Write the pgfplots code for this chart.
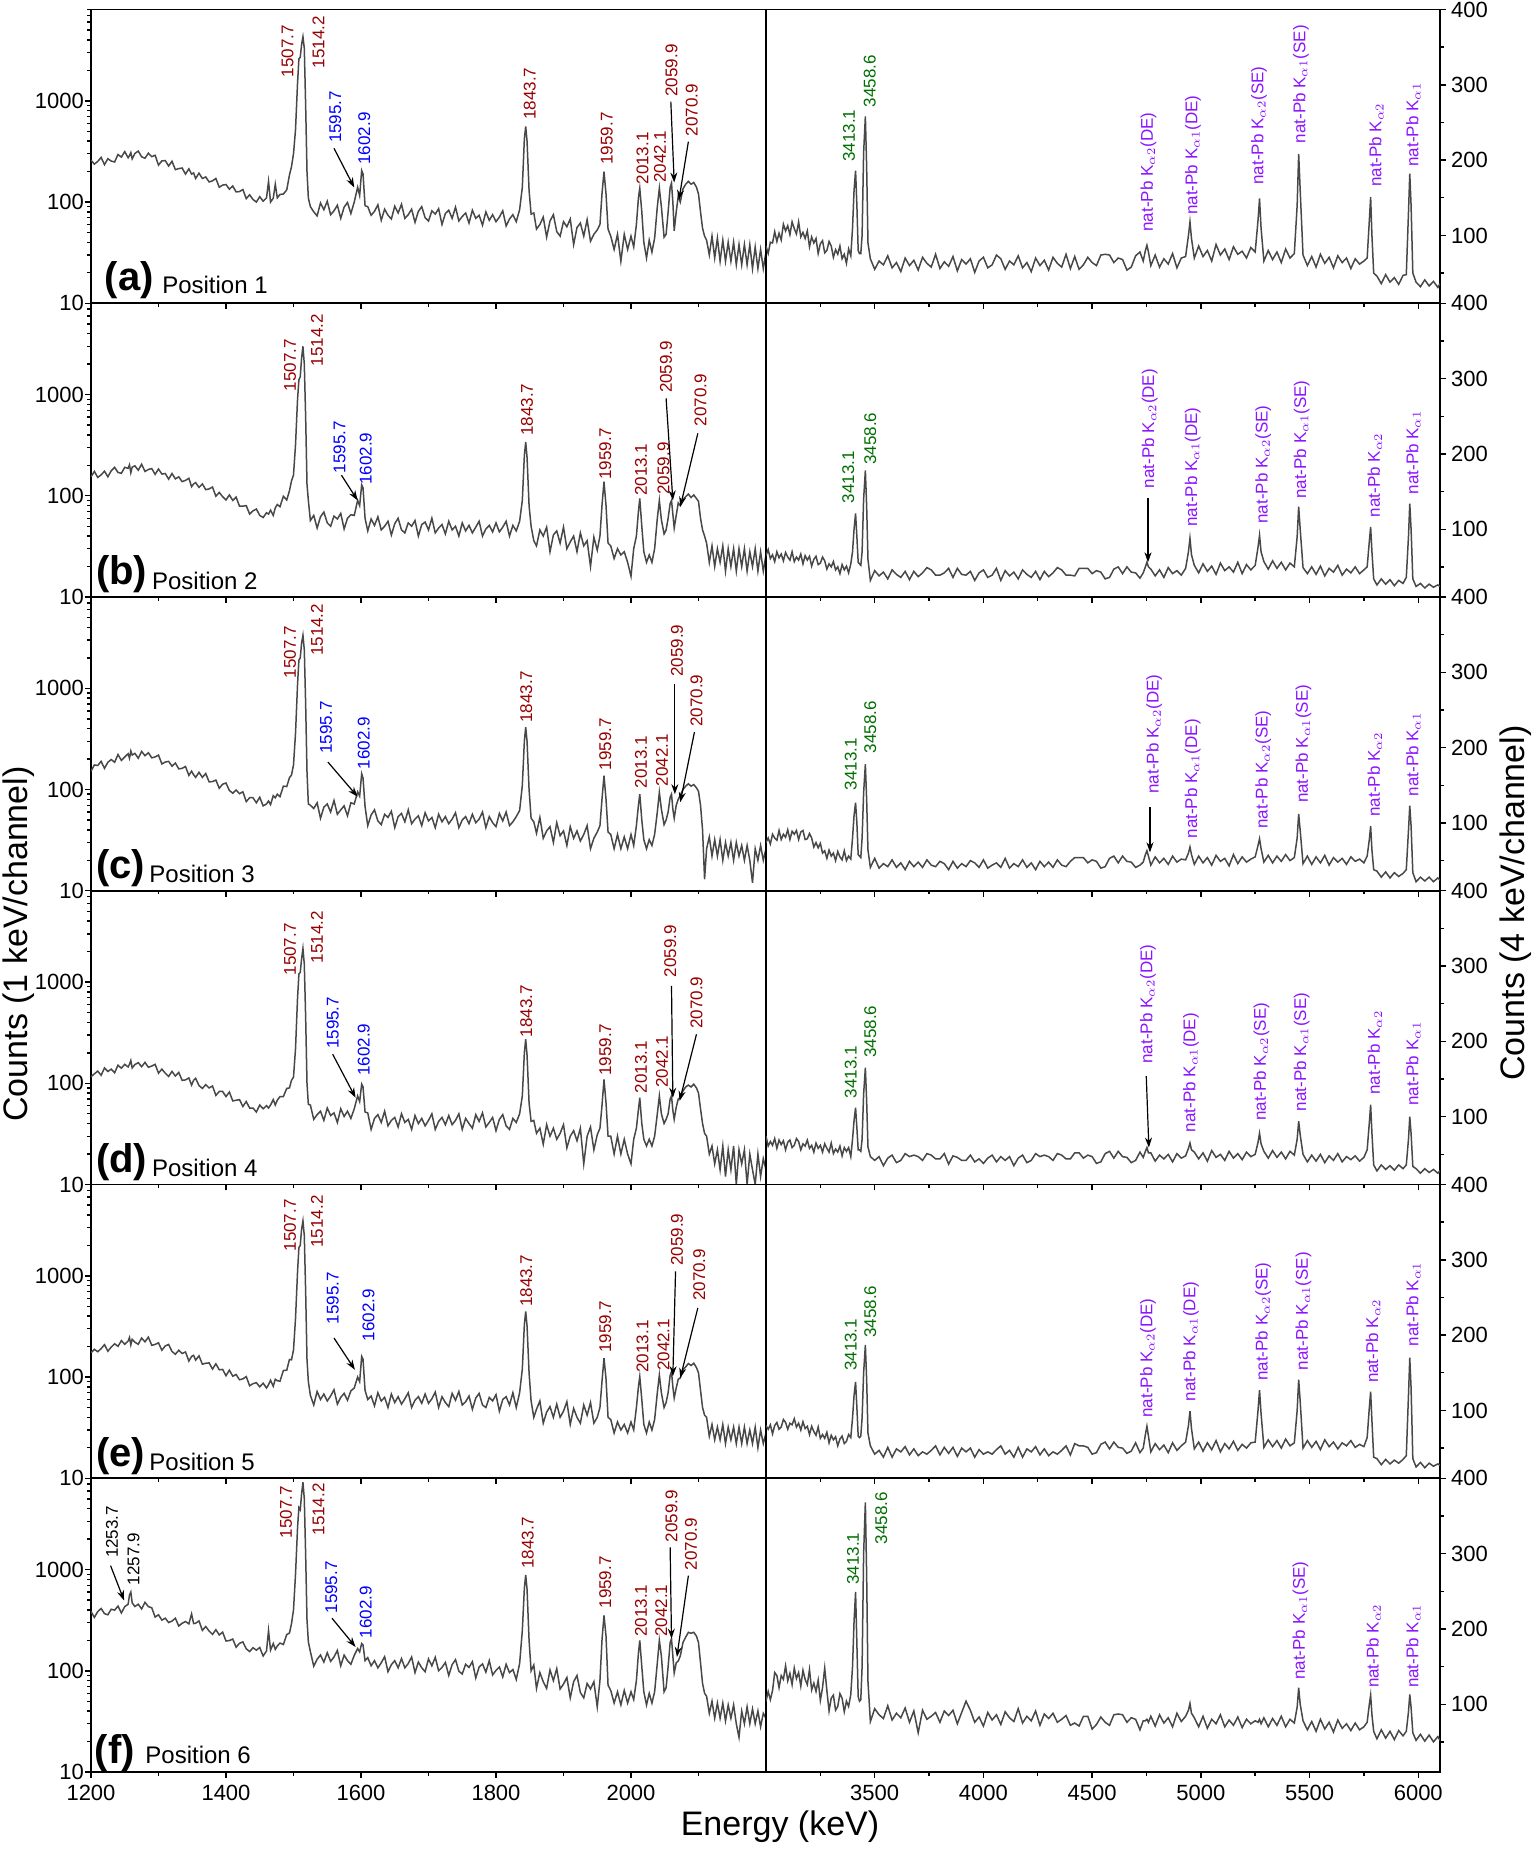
\documentclass[border=0pt]{standalone}
\usepackage{pgfplots}
\pgfplotsset{compat=1.18}
\usepackage{pgfplotstable}
\usepackage{fontspec}
\setmainfont{Liberation Sans}
\usetikzlibrary{arrows.meta}
\definecolor{pkred}{RGB}{150,0,0}
\definecolor{pkblue}{RGB}{0,0,255}
\definecolor{pkgreen}{RGB}{0,110,0}
\definecolor{pkpurple}{RGB}{140,20,255}
\definecolor{specc}{RGB}{72,72,72}

\pgfplotstableread{
E a b c d e f
1200 259 154 152 116 174 386
1205 237 174 175 124 188 337
1210 252 152 173 132 178 385
1215 276 161 190 120 191 413
1220 234 175 162 142 209 367
1225 268 154 186 131 180 358
1230 254 177 198 138 198 406
1235 249 191 186 127 213 398
1240 295 170 222 151 201 436
1245 278 167 194 141 229 373
1250 315 191 210 154 211 431
1255 274 187 226 145 227 455
1257 287 202 204 154 246 560
1259 308 169 240 168 208 600
1261 267 192 219 142 236 470
1265 302 198 228 153 221 432
1270 319 179 204 160 211 455
1275 280 205 238 146 243 409
1280 271 174 216 161 223 475
1285 304 182 231 144 248 431
1290 281 186 206 148 206 420
1295 290 163 210 154 210 340
1300 232 184 219 126 218 358
1305 255 164 179 138 184 317
1310 257 166 187 126 203 331
1315 227 146 190 117 210 300
1320 253 166 170 131 179 310
1325 209 147 183 118 168 331
1330 214 154 160 128 184 277
1335 217 138 162 107 171 295
1340 189 142 169 108 177 307
1345 213 149 138 113 144 291
1349 189 123 152 96 160 365
1352 194 131 140 107 164 293
1355 171 135 132 112 147 295
1360 193 121 148 95 162 311
1365 171 131 132 89 134 251
1370 177 115 144 97 137 274
1375 158 117 119 90 138 247
1380 162 122 120 94 120 229
1385 171 99 124 76 135 255
1390 140 108 103 83 118 226
1395 147 98 113 83 119 241
1400 149 91 116 74 103 197
1405 134 102 98 82 117 199
1410 144 90 92 67 102 206
1415 126 97 99 68 106 171
1420 127 79 91 69 94 187
1425 133 79 95 59 96 193
1430 108 80 76 66 101 165
1435 118 66 83 57 82 155
1440 106 71 83 57 86 169
1445 100 74 74 52 88 160
1450 113 64 84 61 80 170
1455 102 61 69 56 87 140
1460 110 68 72 60 78 157
1463 160 66 77 57 84 250
1466 100 72 71 61 93 160
1470 109 64 87 69 81 186
1473 150 76 83 61 95 163
1476 110 82 90 68 92 176
1480 119 78 85 74 91 188
1485 120 99 108 74 116 182
1490 132 91 107 89 117 228
1494 185 112 131 90 149 236
1497 223 140 139 107 148 291
1500 300 160 175 115 185 400
1503 520 320 360 220 380 900
1506 1500 900 1100 700 1100 2600
1508 2600 1400 1900 1200 1900 4100
1510 2700 1500 2000 1250 2000 3900
1512 3600 2300 2800 1700 2900 5600
1514 4300 3000 3350 2150 3500 7300
1516 3300 2000 2400 1500 2500 5000
1518 900 600 700 450 700 1400
1520 200 130 150 100 150 320
1522 110 90 72 62 90 193
1525 90 57 70 61 66 155
1530 80 64 65 44 53 111
1535 73 48 74 49 72 130
1540 98 62 52 53 60 143
1545 84 69 67 43 68 122
1550 102 54 72 57 58 151
1555 75 50 60 48 65 124
1560 82 63 78 51 75 137
1565 93 59 57 41 54 159
1570 69 67 63 56 63 112
1575 89 47 69 47 69 143
1580 99 60 55 53 59 126
1585 77 65 74 45 73 116
1590 100 64 72 56 78 142
1595 140 90 95 75 100 166
1598 116 80 86 66 90 154
1601 205 128 143 98 160 186
1603 190 120 130 92 150 180
1606 92 60 68 52 74 126
1610 90 45 44 51 60 135
1615 74 59 56 35 65 112
1620 81 51 63 45 52 126
1625 94 62 49 49 70 107
1630 66 46 45 41 58 120
1635 85 50 57 53 63 138
1640 74 56 53 38 50 98
1645 68 41 61 43 68 115
1650 91 53 42 46 56 126
1655 78 60 54 37 64 107
1660 95 46 58 50 54 132
1665 69 43 48 41 61 107
1670 75 54 63 44 70 118
1675 85 50 46 35 50 137
1680 63 57 51 48 59 96
1685 81 40 55 40 64 122
1690 90 52 44 45 55 107
1695 70 55 59 38 68 98
1700 65 46 49 43 55 131
1705 82 60 53 50 61 112
1710 76 43 42 35 71 136
1715 86 48 57 42 50 100
1720 60 52 48 46 64 108
1725 77 42 54 39 56 121
1730 83 56 46 48 51 90
1735 69 46 51 39 69 115
1740 89 50 59 43 59 129
1745 65 40 42 50 72 99
1750 72 54 50 35 53 93
1755 78 45 54 45 57 116
1760 62 51 46 40 65 108
1765 83 43 57 36 48 123
1770 69 49 47 49 62 85
1775 74 56 51 42 69 109
1780 59 40 60 51 53 117
1785 80 47 42 37 50 97
1790 66 51 54 41 63 126
1795 75 44 47 46 58 91
1800 64 54 43 34 67 101
1805 71 44 58 44 46 109
1810 82 49 49 49 60 87
1815 58 56 60 38 64 116
1820 68 40 44 35 53 96
1825 75 51 48 45 70 103
1830 64 45 54 41 50 82
1835 84 56 62 50 70 118
1839 140 90 110 75 120 250
1842 420 250 300 200 330 650
1844 560 340 414 273 445 887
1846 400 240 300 190 320 640
1849 130 80 100 64 110 200
1852 76 50 52 42 58 100
1856 78 36 48 43 40 114
1860 54 32 37 32 48 67
1865 60 46 53 36 58 96
1870 71 40 33 25 35 78
1875 45 49 39 39 45 67
1880 65 28 43 30 51 102
1885 75 41 30 36 40 80
1890 51 45 47 28 54 105
1895 46 34 35 32 40 66
1900 64 49 39 39 46 74
1905 57 30 28 23 57 86
1910 68 35 43 30 34 54
1915 38 40 33 34 49 78
1920 56 28 39 27 40 90
1925 62 43 31 36 35 61
1930 46 32 36 16 53 54
1935 67 36 44 30 42 75
1940 41 20 26 37 56 66
1945 48 39 33 22 35 78
1950 53 29 38 31 40 44
1954 60 40 44 36 50 80
1957 120 80 80 60 90 200
1960 200 138 137 109 154 353
1963 120 80 80 64 96 220
1966 54 34 38 30 40 72
1970 46 32 36 30 38 64
1975 34 24 26 20 28 48
1980 48 30 36 30 36 62
1985 26 26 26 20 30 46
1990 48 28 34 28 34 64
1995 34 22 26 20 28 48
2000 46 16 36 16 36 62
2004 36 30 28 28 30 52
2008 60 40 44 36 50 80
2011 110 70 70 55 80 150
2013 137 94 90 72 101 200
2016 80 50 50 40 60 110
2019 40 28 32 28 34 62
2023 28 22 26 24 28 46
2027 42 26 32 28 36 60
2031 32 22 28 24 30 48
2035 44 30 36 30 38 62
2039 90 60 60 50 70 120
2042 137 90 94 75 105 200
2045 90 58 64 50 70 140
2049 45 42 45 40 50 62
2052 48 46 50 44 56 68
2055 80 60 60 50 70 110
2058 140 84 84 70 104 190
2060 154 90 90 75 113 208
2062 100 66 64 54 80 140
2064 52 48 52 44 62 95
2067 80 64 70 58 78 120
2070 115 85 80 70 95 125
2073 100 80 88 72 98 140
2077 135 92 100 84 118 190
2081 150 98 108 92 126 215
2085 160 104 114 96 136 240
2089 150 96 108 92 130 235
2093 156 102 112 98 137 240
2097 140 94 104 90 124 220
2100 120 88 96 80 110 190
2103 80 60 70 56 74 120
2106 55 46 40 40 50 75
2109 46 40 13 32 42 60
2112 42 34 26 30 40 56
2116 30 22 34 20 26 38
2120 46 32 22 24 34 50
2124 28 20 32 16 24 34
2128 44 30 22 22 32 48
2132 26 22 32 14 24 34
2136 42 32 20 24 34 48
2140 26 18 30 12 22 32
2144 40 30 22 22 32 46
2148 26 20 30 14 24 34
2152 40 30 20 24 32 46
2156 24 18 30 10 22 30
2160 38 30 22 22 32 22
2164 24 20 28 16 22 40
2168 38 30 20 22 32 30
2172 24 18 28 10 22 44
2176 38 28 20 20 30 30
2180 22 20 12 14 22 42
2184 36 30 26 10 32 30
2188 22 18 20 20 20 40
2192 34 28 28 12 30 28
2196 22 18 20 18 22 38
2200 32 26 26 14 28 34
}\leftdata

\pgfplotstableread{
E a b c d e f
3000 86 65 74 74 80 104
3010 76 73 80 61 75 117
3020 91 61 72 67 81 106
3030 90 66 85 62 69 118
3040 105 57 80 71 80 142
3050 92 70 77 58 84 138
3060 103 62 90 69 75 122
3070 94 67 78 63 78 138
3080 115 58 85 68 88 133
3090 106 69 81 56 84 151
3100 113 63 91 66 75 131
3110 101 59 78 69 83 141
3120 118 70 89 59 81 126
3130 109 57 85 62 89 148
3140 102 63 90 71 78 134
3150 118 59 78 67 83 142
3160 98 67 88 56 74 124
3170 104 54 90 64 85 145
3180 96 65 78 61 76 133
3190 106 59 79 69 79 126
3200 85 64 86 58 68 146
3210 98 51 80 62 79 119
3220 90 60 68 53 72 128
3230 96 64 74 65 67 117
3240 76 53 67 58 78 132
3250 89 55 73 62 63 105
3260 93 63 60 53 68 122
3270 77 58 63 64 63 148
3280 80 47 53 58 71 118
3290 92 54 64 53 57 91
3300 86 50 56 65 67 108
3310 71 57 60 51 61 112
3320 81 46 50 57 65 92
3330 75 50 62 53 53 97
3340 86 41 55 61 62 114
3350 69 53 51 48 66 108
3360 75 46 63 59 56 90
3370 63 51 50 54 59 104
3380 82 42 56 59 68 97
3390 73 54 52 47 64 113
3398 110 70 80 70 90 150
3405 160 100 110 95 120 210
3412 186 121 127 112 138 249
3418 140 90 100 85 104 180
3424 80 56 58 56 66 110
3430 76 54 56 56 64 104
3436 76 52 54 54 66 106
3442 100 70 80 70 90 150
3449 210 140 140 130 150 300
3457 258 178 178 165 187 368
3463 190 130 130 120 140 270
3469 90 60 64 60 70 130
3480 69 32 41 47 53 77
3500 55 45 53 42 42 94
3520 66 38 40 47 47 86
3540 61 43 46 35 38 81
3560 73 34 42 45 51 98
3580 57 46 51 49 38 79
3600 64 40 41 39 49 88
3620 52 36 47 42 45 82
3640 70 44 38 51 52 95
3660 60 33 49 47 41 76
3680 67 44 42 49 49 91
3700 54 37 48 47 40 62
3720 71 42 41 42 45 92
3740 63 49 51 51 42 80
3760 58 46 44 49 47 84
3780 75 39 42 44 53 89
3800 56 39 49 44 41 76
3820 65 42 46 51 51 91
3840 59 48 38 37 43 85
3860 72 36 49 48 51 92
3880 53 48 40 46 39 74
3900 68 40 46 42 50 89
3920 62 39 42 42 45 104
3940 69 44 50 49 50 92
3960 51 32 47 40 38 76
3980 66 42 41 44 48 83
4000 71 46 51 38 42 71
4020 57 36 40 45 45 89
4040 61 39 44 49 42 79
4060 74 48 47 40 48 86
4080 69 32 41 47 53 73
4100 55 45 53 42 42 90
4120 66 38 40 47 47 82
4140 61 43 46 35 38 77
4160 73 34 42 45 51 94
4180 57 46 51 49 38 75
4200 64 40 41 39 49 84
4220 52 36 47 42 45 78
4240 70 44 38 51 52 91
4260 60 33 49 47 41 72
4280 67 44 42 49 49 87
4300 54 37 48 47 40 81
4320 71 42 41 42 45 88
4340 63 49 51 51 42 76
4360 58 46 44 49 47 80
4380 75 39 42 44 53 85
4400 56 39 49 44 41 72
4420 72 38 54 52 56 75
4440 55 48 54 52 53 71
4460 61 48 54 45 53 84
4480 71 48 47 49 51 84
4500 64 41 51 47 42 67
4520 60 45 49 38 44 73
4540 74 43 40 40 55 83
4560 75 34 42 51 58 76
4580 74 36 53 54 49 72
4600 64 47 56 45 58 86
4620 70 50 47 54 51 87
4640 68 41 56 47 50 86
4660 54 50 49 46 43 76
4680 58 43 48 39 46 82
4700 73 42 41 42 57 80
4720 78 35 44 53 44 66
4735 66 42 48 46 50 78
4745 80 50 58 54 68 78
4752 87 56 63 59 79 80
4759 78 50 56 52 66 76
4770 60 47 44 52 45 84
4790 74 38 55 41 56 71
4810 58 46 47 49 48 86
4830 69 36 53 44 54 75
4850 62 49 45 50 44 82
4870 76 41 56 40 57 70
4890 57 45 48 51 47 88
4910 70 39 52 45 53 77
4930 72 48 51 48 58 84
4943 100 70 60 58 80 92
4950 118 88 68 65 99 101
4957 96 66 58 56 76 88
4970 70 52 45 53 49 82
4990 86 42 56 44 58 70
5010 72 54 47 52 46 84
5030 80 44 54 41 57 68
5050 66 51 44 55 48 80
5070 88 40 57 46 60 74
5090 74 55 49 50 45 86
5110 82 45 53 42 56 70
5130 68 50 43 54 49 79
5150 85 43 58 45 59 72
5170 75 56 46 51 47 83
5190 79 41 55 43 55 69
5210 70 53 48 53 50 80
5230 84 46 52 47 57 74
5250 78 52 55 50 58 78
5263 120 76 70 66 100 76
5270 149 92 79 78 127 80
5277 110 70 66 64 96 74
5290 66 57 48 54 51 82
5310 80 47 57 45 61 70
5330 68 58 47 55 52 81
5350 78 48 56 46 60 72
5370 64 56 49 53 50 84
5390 82 46 58 44 62 70
5410 70 55 50 54 53 80
5430 76 50 54 49 57 75
5443 140 90 80 70 100 96
5450 208 130 112 94 141 122
5457 160 100 90 76 112 100
5470 74 49 46 50 50 78
5490 60 41 56 40 60 66
5510 72 50 45 49 51 77
5530 58 40 55 41 59 64
5550 75 51 47 50 48 80
5570 63 38 57 39 61 67
5590 71 48 44 48 52 76
5610 57 43 54 42 58 63
5630 73 52 48 51 49 79
5650 64 39 53 40 57 68
5670 70 47 45 47 53 74
5690 56 42 55 43 60 65
5710 69 50 49 48 51 75
5730 62 41 52 41 55 66
5750 66 46 47 46 52 70
5765 70 50 56 56 64 76
5775 120 84 78 92 104 100
5781 151 103 96 116 125 112
5787 100 70 64 78 86 86
5795 50 34 38 36 38 64
5810 46 26 36 28 36 54
5830 36 34 28 36 28 66
5850 48 27 35 30 35 55
5870 38 33 27 35 29 64
5890 44 25 34 29 34 53
5910 35 32 29 36 30 65
5930 47 28 33 31 35 58
5945 48 36 38 36 40 64
5955 130 90 90 70 120 90
5961 182 134 123 100 170 113
5967 140 100 96 78 130 96
5975 50 34 34 34 36 62
5990 38 24 22 31 25 52
6010 32 28 28 25 31 60
6030 41 22 23 31 24 51
6050 33 27 28 26 30 59
6070 39 23 22 30 26 50
6090 31 26 27 25 29 57
6100 36 24 24 28 27 52
}\rightdata

\newcommand{\pkf}{\fontsize{8.5}{9}\selectfont}
\newcommand{\pk}[4][pkred]{\node[rotate=90,anchor=west,inner sep=0pt,text=#1,font=\pkf] at (axis cs:#2,#3) {#4};}
\newcommand{\arr}[4]{\draw[-{Stealth[length=5pt,width=3.5pt]},line width=0.6pt] (axis cs:#1,#2) -- (axis cs:#3,#4);}
\newcommand{\pos}[6]{\node[anchor=base west,inner sep=0pt,font=\fontsize{20}{20}\selectfont\bfseries] at (rel axis cs:#1,#2) {(#5)};
\node[anchor=base west,inner sep=0pt,font=\fontsize{12}{12}\selectfont] at (rel axis cs:#3,#4) {Position #6};}
\newcommand{\Ka}[1]{nat-Pb K$_{\alpha#1}$}

\pgfplotsset{
  panel/.style={scale only axis, height=146.875pt, tick align=outside,
    axis line style={line width=0.9pt},
    every tick/.style={black, line width=0.7pt},
    major tick length=3pt, minor tick length=1.8pt,
    tick label style={font=\fontsize{11}{12}\selectfont},
    xtick pos=left, xticklabels={}},
  leftpanel/.style={panel, width=337.5pt, xmin=1200, xmax=2200, ymin=10, ymax=8000,
    xtick={1200,1400,1600,1800,2000}, minor xtick={1300,1500,1700,1900,2100},
    ytick={10,100,1000}, yticklabels={10,100,1000},
    minor ytick={20,30,40,50,60,70,80,90,200,300,400,500,600,700,800,900,2000,3000,4000,5000,6000,7000,8000},
    ytick pos=left, yticklabel style={xshift=3pt}},
  rightpanel/.style={panel, width=337pt, xmin=3000, xmax=6100, ymin=10, ymax=400,
    xtick={3500,4000,4500,5000,5500,6000}, minor xtick={3250,3750,4250,4750,5250,5750},
    ytick={100,200,300,400}, yticklabels={100,200,300,400}, minor ytick={50,150,250,350},
    ytick pos=right, yticklabel pos=right, yticklabel style={xshift=-1pt}},
  specline/.style={color=specc, line width=0.75pt, no markers}
}

\begin{document}
\begin{tikzpicture}
\path[use as bounding box] (0,0) rectangle (768pt,924.5pt);

% ---------- (a) ----------
\begin{axis}[ymode=log, leftpanel, at={(45.5pt,772.875pt)}, anchor=south west]
\addplot[specline] table[x=E,y=a]{\leftdata};
\pk{1491}{1700}{1507.7}
\pk{1537}{2080}{1514.2}
\pk[pkblue]{1562}{380}{1595.7}
\pk[pkblue]{1605}{233}{1602.9}
\arr{1560}{340}{1590}{139}
\pk{1850}{645}{1843.7}
\pk{1964}{233}{1959.7}
\pk{2017}{148}{2013.1}
\pk{2043}{154}{2042.1}
\pk{2060}{1095}{2059.9}
\arr{2059}{980}{2064}{156}
\pk{2090}{443}{2070.9}
\arr{2085}{395}{2071}{105}
\pos{0.02}{0.044}{0.105}{0.034}{a}{1}
\end{axis}
\begin{axis}[rightpanel, at={(383pt,772.875pt)}, anchor=south west]
\addplot[specline] table[x=E,y=a]{\rightdata};
\pk[pkgreen]{3382}{197.6}{3413.1}
\pk[pkgreen]{3477}{270}{3458.6}
\pk[pkpurple]{4759}{104.7}{\Ka{2}(DE)}
\pk[pkpurple]{4964}{127}{\Ka{1}(DE)}
\pk[pkpurple]{5267}{167}{\Ka{2}(SE)}
\pk[pkpurple]{5460}{222}{\Ka{1}(SE)}
\pk[pkpurple]{5807}{164}{\Ka{2}}
\pk[pkpurple]{5977}{191}{\Ka{1}}
\end{axis}

% ---------- (b) ----------
\begin{axis}[ymode=log, leftpanel, at={(45.5pt,626pt)}, anchor=south west]
\addplot[specline] table[x=E,y=b]{\leftdata};
\pk{1495}{1075}{1507.7}
\pk{1535}{1890}{1514.2}
\pk[pkblue]{1568}{166}{1595.7}
\pk[pkblue]{1607}{128}{1602.9}
\arr{1571}{160}{1595}{90}
\pk{1846}{389}{1843.7}
\pk{1962}{143}{1959.7}
\pk{2015}{99}{2013.1}
\pk{2048}{102}{2059.9}
\pk{2052}{1030}{2059.9}
\arr{2052}{920}{2062}{90}
\pk{2103}{482}{2070.9}
\arr{2099}{414}{2073}{78}
\pos{0.007}{0.041}{0.09}{0.027}{b}{2}
\end{axis}
\begin{axis}[rightpanel, at={(383pt,626pt)}, anchor=south west]
\addplot[specline] table[x=E,y=b]{\rightdata};
\pk[pkgreen]{3378}{134}{3413.1}
\pk[pkgreen]{3480}{185}{3458.6}
\pk[pkpurple]{4765}{154}{\Ka{2}(DE)}
\arr{4757}{141}{4757}{56}
\pk[pkpurple]{4963}{103}{\Ka{1}(DE)}
\pk[pkpurple]{5287}{107}{\Ka{2}(SE)}
\pk[pkpurple]{5464}{140}{\Ka{1}(SE)}
\pk[pkpurple]{5800}{115.5}{\Ka{2}}
\pk[pkpurple]{5977}{146}{\Ka{1}}
\end{axis}

% ---------- (c) ----------
\begin{axis}[ymode=log, leftpanel, at={(45.5pt,479.125pt)}, anchor=south west]
\addplot[specline] table[x=E,y=c]{\leftdata};
\pk{1495}{1250}{1507.7}
\pk{1535}{2075}{1514.2}
\pk[pkblue]{1548}{225}{1595.7}
\pk[pkblue]{1604}{158}{1602.9}
\arr{1551}{187}{1595}{85}
\pk{1845}{454}{1843.7}
\pk{1962}{154}{1959.7}
\pk{2015}{102}{2013.1}
\pk{2046}{107}{2042.1}
\pk{2068}{1295}{2059.9}
\arr{2065}{1110}{2065}{90}
\pk{2097}{414}{2070.9}
\arr{2094}{370}{2073}{75}
\pos{0.007}{0.041}{0.086}{0.027}{c}{3}
\end{axis}
\begin{axis}[rightpanel, at={(383pt,479.125pt)}, anchor=south west]
\addplot[specline] table[x=E,y=c]{\rightdata};
\pk[pkgreen]{3390}{143}{3413.1}
\pk[pkgreen]{3480}{192}{3458.6}
\pk[pkpurple]{4786}{138.5}{\Ka{2}(DE)}
\arr{4766}{121}{4766}{61}
\pk[pkpurple]{4963}{79}{\Ka{1}(DE)}
\pk[pkpurple]{5287}{92}{\Ka{2}(SE)}
\pk[pkpurple]{5472}{126}{\Ka{1}(SE)}
\pk[pkpurple]{5800}{108}{\Ka{2}}
\pk[pkpurple]{5977}{135}{\Ka{1}}
\end{axis}

% ---------- (d) ----------
\begin{axis}[ymode=log, leftpanel, at={(45.5pt,332.25pt)}, anchor=south west]
\addplot[specline] table[x=E,y=d]{\leftdata};
\pk{1495}{1155}{1507.7}
\pk{1535}{1530}{1514.2}
\pk[pkblue]{1558}{217}{1595.7}
\pk[pkblue]{1604}{118}{1602.9}
\arr{1558}{194}{1592}{72}
\pk{1845}{283}{1843.7}
\pk{1962}{118}{1959.7}
\pk{2015}{79}{2013.1}
\pk{2046}{90}{2042.1}
\pk{2058}{1110}{2059.9}
\arr{2060}{920}{2062}{72}
\pk{2097}{343}{2070.9}
\arr{2097}{305}{2072}{67}
\pos{0.007}{0.041}{0.09}{0.027}{d}{4}
\end{axis}
\begin{axis}[rightpanel, at={(383pt,332.25pt)}, anchor=south west]
\addplot[specline] table[x=E,y=d]{\rightdata};
\pk[pkgreen]{3390}{124}{3413.1}
\pk[pkgreen]{3480}{178}{3458.6}
\pk[pkpurple]{4757}{170}{\Ka{2}(DE)}
\arr{4749}{154}{4761}{59}
\pk[pkpurple]{4955}{79}{\Ka{1}(DE)}
\pk[pkpurple]{5279}{94}{\Ka{2}(SE)}
\pk[pkpurple]{5464}{107}{\Ka{1}(SE)}
\pk[pkpurple]{5800}{129}{\Ka{2}}
\pk[pkpurple]{5977}{114}{\Ka{1}}
\end{axis}

% ---------- (e) ----------
\begin{axis}[ymode=log, leftpanel, at={(45.5pt,185.375pt)}, anchor=south west]
\addplot[specline] table[x=E,y=e]{\leftdata};
\pk{1495}{1730}{1507.7}
\pk{1535}{1890}{1514.2}
\pk[pkblue]{1558}{330}{1595.7}
\pk[pkblue]{1611}{225}{1602.9}
\arr{1560}{243}{1591}{118}
\pk{1845}{490}{1843.7}
\pk{1962}{173}{1959.7}
\pk{2017}{110}{2013.1}
\pk{2048}{114}{2042.1}
\pk{2068}{1250}{2059.9}
\arr{2066}{1110}{2062}{102}
\pk{2101}{561}{2070.9}
\arr{2099}{482}{2073}{98}
\pos{0.007}{0.041}{0.086}{0.027}{e}{5}
\end{axis}
\begin{axis}[rightpanel, at={(383pt,185.375pt)}, anchor=south west]
\addplot[specline] table[x=E,y=e]{\rightdata};
\pk[pkgreen]{3390}{152}{3413.1}
\pk[pkgreen]{3480}{196}{3458.6}
\pk[pkpurple]{4757}{90}{\Ka{2}(DE)}
\pk[pkpurple]{4955}{112}{\Ka{1}(DE)}
\pk[pkpurple]{5287}{139}{\Ka{2}(SE)}
\pk[pkpurple]{5472}{153}{\Ka{1}(SE)}
\pk[pkpurple]{5792}{136}{\Ka{2}}
\pk[pkpurple]{5977}{185}{\Ka{1}}
\end{axis}

% ---------- (f) ----------
\begin{axis}[ymode=log, leftpanel, at={(45.5pt,38.5pt)}, anchor=south west, xticklabels={1200,1400,1600,1800,2000}]
\addplot[specline] table[x=E,y=f]{\leftdata};
\pk[black]{1231}{1292}{1253.7}
\pk[black]{1263}{697}{1257.9}
\arr{1229}{1095}{1249}{495}
\pk{1489}{2030}{1507.7}
\pk{1537}{2160}{1514.2}
\pk[pkblue]{1556}{366}{1595.7}
\pk[pkblue]{1607}{208}{1602.9}
\arr{1557}{331}{1592}{172}
\pk{1847}{1015}{1843.7}
\pk{1962}{410}{1959.7}
\pk{2015}{216}{2013.1}
\pk{2045}{216}{2042.1}
\pk{2060}{1857}{2059.9}
\arr{2058}{1660}{2060}{208}
\pk{2089}{977}{2070.9}
\arr{2085}{873}{2068}{137}
\pos{0.005}{0.03}{0.08}{0.03}{f}{6}
\end{axis}
\begin{axis}[rightpanel, at={(383pt,38.5pt)}, anchor=south west, xticklabels={3500,4000,4500,5000,5500,6000}]
\addplot[specline] table[x=E,y=f]{\rightdata};
\pk[pkgreen]{3400}{258}{3413.1}
\pk[pkgreen]{3530}{312}{3458.6}
\pk[pkpurple]{5458}{132}{\Ka{1}(SE)}
\pk[pkpurple]{5795}{121}{\Ka{2}}
\pk[pkpurple]{5977}{121}{\Ka{1}}
\end{axis}

\node[rotate=90,font=\fontsize{17}{17}\selectfont] at (9.5pt,452.5pt) {Counts (1 keV/channel)};
\node[rotate=90,font=\fontsize{17}{17}\selectfont] at (758pt,473pt) {Counts (4 keV/channel)};
\node[font=\fontsize{17}{17}\selectfont] at (390pt,11pt) {Energy (keV)};
\end{tikzpicture}
\end{document}
